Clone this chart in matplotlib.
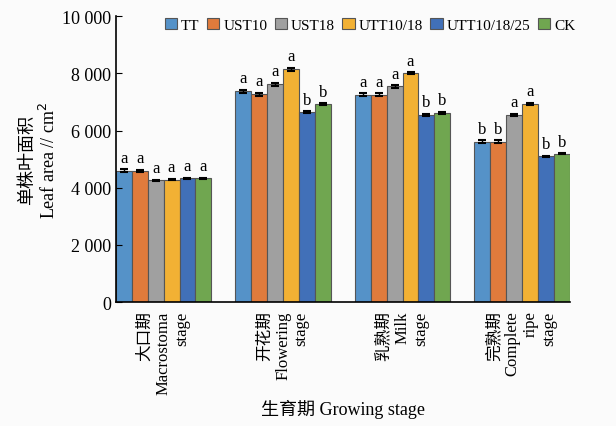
import numpy as np
import matplotlib
matplotlib.use('Agg')
import matplotlib.pyplot as plt

plt.rcParams['font.family'] = ['Liberation Serif', 'Noto Sans CJK SC', 'DejaVu Sans']

stages = ['大口期\nMacrostoma\nstage', '开花期\nFlowering\nstage',
          '乳熟期\nMilk\nstage', '完熟期\nComplete\nripe\nstage']
treatments = ['TT', 'UST10', 'UST18', 'UTT10/18', 'UTT10/18/25', 'CK']
colors = ['#5592c8', '#e07b3c', '#a0a0a0', '#f2b134', '#4170b8', '#70a650']

# leaf area per treatment, one value per stage
TT          = [4600, 7370, 7250, 5610]
UST10       = [4590, 7260, 7250, 5615]
UST18       = [4255, 7620, 7540, 6550]
UTT10_18    = [4285, 8140, 8000, 6930]
UTT10_18_25 = [4325, 6640, 6550, 5100]
CK          = [4325, 6920, 6620, 5190]
errs        = [[40, 50, 50, 50], [40, 60, 50, 40], [25, 50, 50, 40],
               [25, 50, 40, 40], [20, 30, 30, 20], [20, 30, 30, 20]]
letters = [['a', 'a', 'a', 'b'], ['a', 'a', 'a', 'b'], ['a', 'a', 'a', 'a'],
           ['a', 'a', 'a', 'a'], ['a', 'b', 'b', 'b'], ['a', 'b', 'b', 'b']]

series = [TT, UST10, UST18, UTT10_18, UTT10_18_25, CK]

fig = plt.figure(figsize=(6.16, 4.27), dpi=100, facecolor='#fbfbfb')
ax = fig.add_axes([0.188, 0.29, 0.737, 0.67])
ax.set_facecolor('#fbfbfb')

x = np.arange(len(stages))
w = 0.8 / 6
for i, (vals, c) in enumerate(zip(series, colors)):
    pos = x - 0.4 + w * (i + 0.5)
    ax.bar(pos, vals, w, color=c, edgecolor='#555555', linewidth=0.8,
           label=treatments[i], yerr=errs[i], capsize=3,
           error_kw=dict(elinewidth=1, ecolor='black', capthick=1.5))
    for p, v, e, l in zip(pos, vals, errs[i], letters[i]):
        ax.text(p, v + e + 120, l, ha='center', va='bottom', fontsize=12)

ax.set_xlim(-0.4, 3.4)
ax.set_ylim(0, 10000)
ax.set_yticks([0, 2000, 4000, 6000, 8000, 10000])
ax.set_yticklabels(['0', '2 000', '4 000', '6 000', '8 000', '10 000'], fontsize=13)
ax.tick_params(axis='y', direction='in', length=4)
ax.set_xticks(x)
ax.set_xticklabels(stages, rotation=90, fontsize=12, va='top', ha='center',
                   multialignment='right')
ax.tick_params(axis='x', length=0, pad=6)
for s in ['top', 'right']:
    ax.spines[s].set_visible(False)
for s in ['left', 'bottom']:
    ax.spines[s].set_linewidth(1.2)

ax.set_ylabel('单株叶面积\nLeaf area // cm$^2$', fontsize=13, labelpad=2)
fig.text(0.557, 0.04, '生育期 Growing stage', ha='center', va='center', fontsize=13)

ax.legend(loc='center', bbox_to_anchor=(0.56, 0.97), ncol=6, frameon=False,
          fontsize=11, handlelength=0.8, handleheight=0.8, handletextpad=0.25,
          columnspacing=0.5, borderaxespad=0)

fig.savefig('out.png', dpi=100, facecolor=fig.get_facecolor())
